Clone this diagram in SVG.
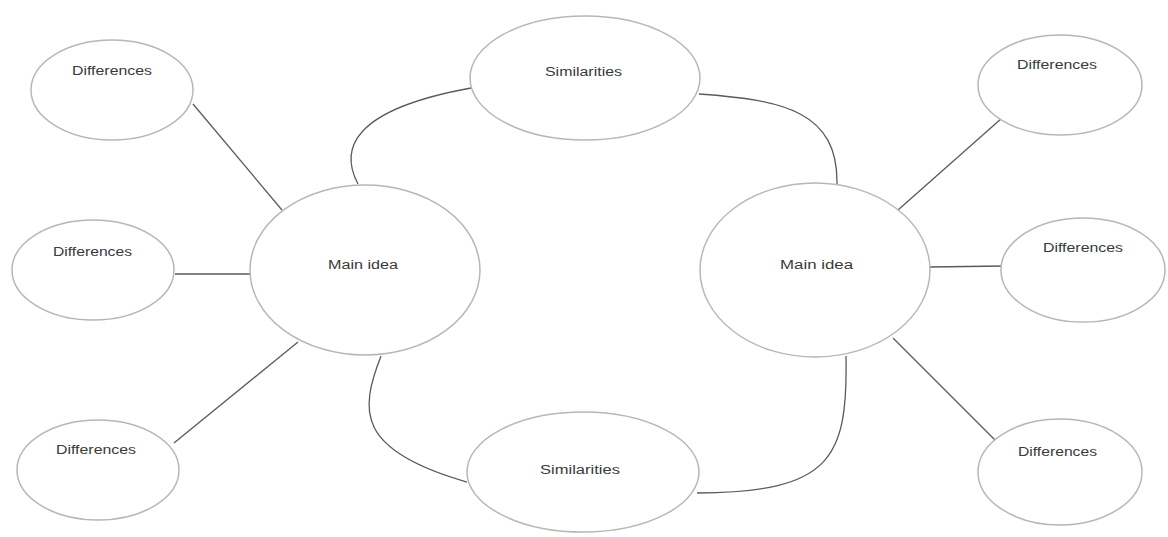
<svg xmlns="http://www.w3.org/2000/svg" width="1168" height="537" viewBox="0 0 1168 537">
<style>
.n{fill:#ffffff;stroke:#b8b8b0;stroke-width:1.5}
.c{fill:none;stroke:#5a5a5a;stroke-width:1.3}
.t{font-family:"Liberation Sans",Arial,sans-serif;font-size:12px;fill:#3a3a3a;lengthAdjust:spacingAndGlyphs}
</style>
<rect width="1168" height="537" fill="#ffffff"/>
<g id="connectors">
<line class="c" x1="193" y1="104" x2="282" y2="210"/>
<line class="c" x1="175" y1="274" x2="250" y2="274"/>
<line class="c" x1="174" y1="443" x2="298" y2="342"/>
<path class="c" d="M358,184 C340,150 350,110 471,88"/>
<path class="c" d="M699,94 C785,100 838,112 837,184"/>
<path class="c" d="M381,356 C360,410 355,450 467,482"/>
<path class="c" d="M846,356 C848,460 830,492 697,493"/>
<line class="c" x1="898" y1="210" x2="1002" y2="118"/>
<line class="c" x1="930" y1="267" x2="1003" y2="266"/>
<line class="c" x1="893" y1="338" x2="995" y2="440"/>
</g>
<g id="diff-tl"><ellipse class="n" cx="112" cy="90" rx="81" ry="50"/><text class="t" x="72" y="75" textLength="80" lengthAdjust="spacingAndGlyphs">Differences</text></g>
<g id="diff-lm"><ellipse class="n" cx="93" cy="270" rx="81" ry="50"/><text class="t" x="53" y="256" textLength="79" lengthAdjust="spacingAndGlyphs">Differences</text></g>
<g id="diff-bl"><ellipse class="n" cx="98" cy="470" rx="81" ry="50"/><text class="t" x="56" y="454" textLength="80" lengthAdjust="spacingAndGlyphs">Differences</text></g>
<g id="main-left"><ellipse class="n" cx="365" cy="270" rx="115" ry="85"/><text class="t" x="328" y="269" textLength="70" lengthAdjust="spacingAndGlyphs">Main idea</text></g>
<g id="sim-top"><ellipse class="n" cx="585" cy="78" rx="115" ry="62"/><text class="t" x="545" y="76" textLength="77" lengthAdjust="spacingAndGlyphs">Similarities</text></g>
<g id="sim-bottom"><ellipse class="n" cx="583" cy="472" rx="116" ry="60"/><text class="t" x="540" y="474" textLength="80" lengthAdjust="spacingAndGlyphs">Similarities</text></g>
<g id="main-right"><ellipse class="n" cx="815" cy="270" rx="115" ry="87"/><text class="t" x="780" y="269" textLength="73" lengthAdjust="spacingAndGlyphs">Main idea</text></g>
<g id="diff-tr"><ellipse class="n" cx="1060" cy="85" rx="82" ry="50"/><text class="t" x="1017" y="69" textLength="80" lengthAdjust="spacingAndGlyphs">Differences</text></g>
<g id="diff-rm"><ellipse class="n" cx="1083" cy="270" rx="82" ry="52"/><text class="t" x="1043" y="252" textLength="80" lengthAdjust="spacingAndGlyphs">Differences</text></g>
<g id="diff-br"><ellipse class="n" cx="1060" cy="472" rx="82" ry="53"/><text class="t" x="1018" y="456" textLength="79" lengthAdjust="spacingAndGlyphs">Differences</text></g>
</svg>
